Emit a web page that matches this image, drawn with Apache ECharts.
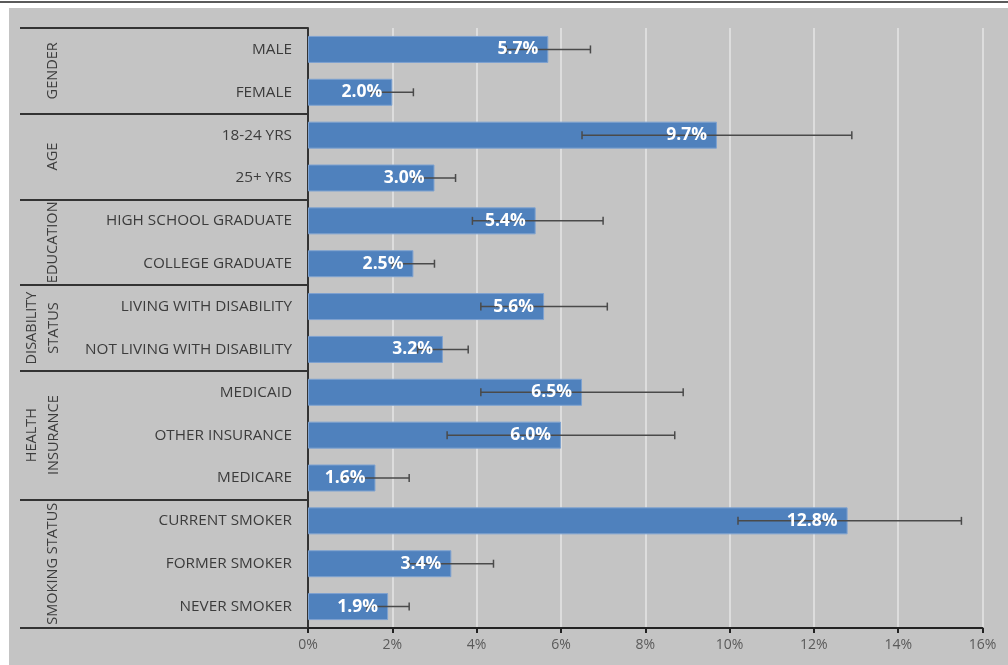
<!DOCTYPE html>
<html>
<head>
<meta charset="utf-8">
<script src="https://cdn.jsdelivr.net/npm/echarts@6/dist/echarts.min.js"></script>
<style>
    html, body { margin: 0; padding: 0; background: #fff; }
    #chart { width: 1008px; height: 665px; }
</style>
</head>
<body>
<div id="chart"></div>
<script>
// 数据
var categories = ['MALE', 'FEMALE', '18-24 YRS', '25+ YRS', 'HIGH SCHOOL GRADUATE', 'COLLEGE GRADUATE',
    'LIVING WITH DISABILITY', 'NOT LIVING WITH DISABILITY', 'MEDICAID', 'OTHER INSURANCE', 'MEDICARE',
    'CURRENT SMOKER', 'FORMER SMOKER', 'NEVER SMOKER'];
var values = [5.7, 2.0, 9.7, 3.0, 5.4, 2.5, 5.6, 3.2, 6.5, 6.0, 1.6, 12.8, 3.4, 1.9];
var lows = [4.7, 1.5, 6.5, 2.5, 3.9, 2.0, 4.1, 2.6, 4.1, 3.3, 0.8, 10.2, 2.4, 1.4];
var highs = [6.7, 2.5, 12.9, 3.5, 7.0, 3.0, 7.1, 3.8, 8.9, 8.7, 2.4, 15.5, 4.4, 2.4];
var groupNames = [['GENDER'], ['AGE'], ['EDUCATION'], ['DISABILITY', 'STATUS'], ['HEALTH', 'INSURANCE'], ['SMOKING STATUS']];
var groupSizes = [2, 2, 2, 2, 3, 3];
var xTicks = [0, 2, 4, 6, 8, 10, 12, 14, 16];

// 每组的起始下标
var groupStarts = [];
var acc = 0;
for (let i = 0; i < groupSizes.length; i++) {
    groupStarts.push(acc);
    acc += groupSizes[i];
}

var errData = [];
for (let i = 0; i < categories.length; i++) {
    errData.push([i, lows[i], highs[i]]);
}

var chart = echarts.init(document.getElementById('chart'));
var textColor = '#3c3c3c';

var option = {
    backgroundColor: '#fff',
    animation: false,
    grid: { left: 308, right: 25.5, top: 28, bottom: 37 },
    xAxis: {
        type: 'value',
        min: xTicks[0],
        max: xTicks[xTicks.length - 1],
        interval: 2,
        axisLine: { show: true, onZero: false, lineStyle: { color: '#222', width: 2 } },
        axisTick: { show: true, length: 5, lineStyle: { color: '#222', width: 2 } },
        axisLabel: { formatter: '{value}%', color: '#5a5a5a', fontSize: 14, fontFamily: 'Open Sans', margin: 10 },
        splitLine: { show: true, lineStyle: { color: '#e6e6e6', width: 1.5 } }
    },
    yAxis: {
        type: 'category',
        inverse: true,
        data: categories,
        axisLine: { show: true, lineStyle: { color: '#333', width: 2 } },
        axisTick: {
            show: true,
            inside: false,
            length: 288,
            interval: function (index) {
                return groupStarts.indexOf(index) >= 0;
            },
            lineStyle: { color: '#333', width: 2 }
        },
        axisLabel: { color: textColor, fontSize: 15.3, fontFamily: 'Open Sans', margin: 16 }
    },
    series: [
        {
            type: 'bar',
            data: values,
            barWidth: '63%',
            z: 2,
            itemStyle: { color: '#4f81bd', borderColor: '#7ea2d0', borderWidth: 1 },
            silent: true
        },
        {
            type: 'custom',
            data: errData,
            z: 3,
            encode: { x: [1, 2], y: 0 },
            renderItem: function (params, api) {
                var idx = api.value(0);
                var lo = api.coord([api.value(1), idx]);
                var hi = api.coord([api.value(2), idx]);
                var cap = 4;
                var style = { stroke: '#4a4a4a', lineWidth: 1.5 };
                return {
                    type: 'group',
                    children: [
                        { type: 'line', shape: { x1: lo[0], y1: lo[1], x2: hi[0], y2: hi[1] }, style: style },
                        { type: 'line', shape: { x1: lo[0], y1: lo[1] - cap, x2: lo[0], y2: lo[1] + cap }, style: style },
                        { type: 'line', shape: { x1: hi[0], y1: hi[1] - cap, x2: hi[0], y2: hi[1] + cap }, style: style }
                    ]
                };
            }
        },
        {
            // 标签层，盖在误差线上面
            type: 'bar',
            data: values,
            barWidth: '63%',
            barGap: '-100%',
            z: 4,
            itemStyle: { color: 'rgba(0,0,0,0)' },
            label: {
                show: true,
                position: 'insideRight',
                distance: 10,
                color: '#fff',
                fontSize: 17.5,
                fontWeight: 'bold',
                fontFamily: 'Open Sans',
                formatter: function (p) { return p.value.toFixed(1) + '%'; }
            },
            silent: true
        }
    ]
};
chart.setOption(option);

// 背景和分组标题
var graphics = [
    { type: 'rect', z: -10, shape: { x: 9, y: 8, width: 1008 - 9, height: 665 - 8 }, style: { fill: '#c4c4c4' } },
    { type: 'rect', z: -10, shape: { x: 0, y: 1, width: 1008, height: 2 }, style: { fill: '#5a5a5a' } }
];
for (let g = 0; g < groupNames.length; g++) {
    var first = groupStarts[g];
    var last = first + groupSizes[g] - 1;
    var y0 = chart.convertToPixel({ yAxisIndex: 0 }, first);
    var y1 = chart.convertToPixel({ yAxisIndex: 0 }, last);
    var cy = (y0 + y1) / 2;
    var lines = groupNames[g];
    for (let k = 0; k < lines.length; k++) {
        var cx = lines.length === 1 ? 53 : (k === 0 ? 32 : 54);
        graphics.push({
            type: 'text',
            x: cx,
            y: cy,
            rotation: Math.PI / 2,
            style: {
                text: lines[k],
                fill: textColor,
                font: '14.5px "Open Sans"',
                align: 'center',
                verticalAlign: 'middle'
            }
        });
    }
}
chart.setOption({ graphic: graphics });
</script>
</body>
</html>
